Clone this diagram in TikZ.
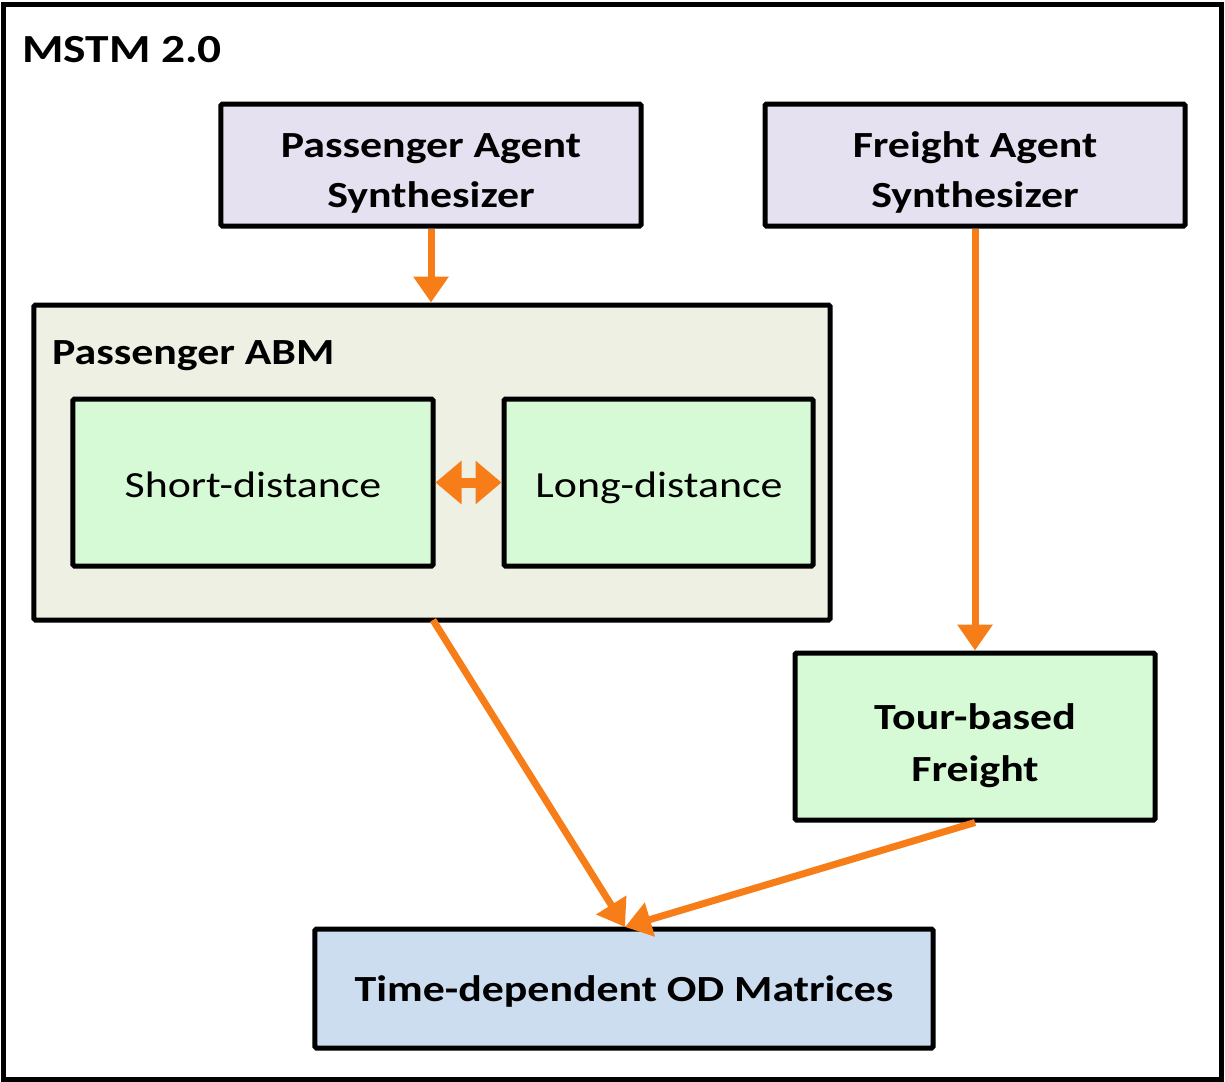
\documentclass[tikz,border=0pt]{standalone}
\usepackage{fontspec}
\setmainfont[FakeStretch=1.19]{Carlito}
\usetikzlibrary{arrows.meta,shadows}
\definecolor{lav}{RGB}{229,225,240}
\definecolor{abmfill}{RGB}{237,240,227}
\definecolor{grn}{RGB}{214,250,214}
\definecolor{blu}{RGB}{205,221,240}
\definecolor{org}{RGB}{247,125,25}
\tikzset{
  box/.style={draw=black, line width=5bp, rounded corners=1.5bp, inner sep=0pt,
    drop shadow={shadow xshift=2bp, shadow yshift=-2bp, opacity=0.25}},
  conn/.style={draw=org, line width=7bp, -{Triangle[width=34bp,length=26bp]}},
  dconn/.style={draw=org, line width=10bp, {Triangle[width=42bp,length=26bp]}-{Triangle[width=42bp,length=26bp]}},
  bigtxt/.style={font=\fontsize{37}{50}\selectfont\bfseries, anchor=base, inner sep=0pt},
  regtxt/.style={font=\fontsize{37}{50}\selectfont, anchor=base, inner sep=0pt},
}
\begin{document}
\begin{tikzpicture}[x=1bp,y=-1bp]
\useasboundingbox (0,0) rectangle (1225,1082);
\fill[white] (0,0) rectangle (1225,1082);
% outer frame
\node[draw=black, line width=5bp, minimum width=1218bp, minimum height=1074bp, inner sep=0pt] (frame) at (612.5,542) {};
\node[anchor=base west, font=\fontsize{40}{50}\selectfont\bfseries, inner sep=0pt] (title) at (22,62) {MSTM 2.0};
% boxes
\node[box, fill=lav, minimum width=420bp, minimum height=122bp] (pas) at (431,165) {};
\node[bigtxt] (pas1) at (431,157) {Passenger Agent};
\node[bigtxt] (pas2) at (431,207) {Synthesizer};
\node[box, fill=lav, minimum width=420bp, minimum height=122bp] (fas) at (975,165) {};
\node[bigtxt] (fas1) at (975,157) {Freight Agent};
\node[bigtxt] (fas2) at (975,207) {Synthesizer};
\node[box, fill=abmfill, minimum width=796bp, minimum height=315bp] (abm) at (432,462.5) {};
\node[anchor=base west, font=\fontsize{37}{44}\selectfont\bfseries, inner sep=0pt] (abmlbl) at (52,364) {Passenger ABM};
\node[box, fill=grn, minimum width=360bp, minimum height=167bp] (sd) at (253,482.5) {};
\node[regtxt] (sdt) at (253,497) {Short-distance};
\node[box, fill=grn, minimum width=309bp, minimum height=167bp] (ld) at (658.5,482.5) {};
\node[regtxt] (ldt) at (659,497) {Long-distance};
\node[box, fill=grn, minimum width=360bp, minimum height=167bp] (tour) at (975,736.5) {};
\node[bigtxt] (tour1) at (975,729) {Tour-based};
\node[bigtxt] (tour2) at (975,781) {Freight};
\node[box, fill=blu, minimum width=618bp, minimum height=119bp] (od) at (624,988.5) {};
\node[bigtxt] (odt) at (624,1001) {Time-dependent OD Matrices};
% connectors
\coordinate (odtop) at (625,927);
\draw[conn] (pas.south) -- (pas.south |- abm.north);
\draw[conn] (fas.south) -- (tour.north);
\draw[conn] (433,620) -- (odtop);
\draw[conn] (tour.south) -- (odtop);
\draw[dconn] (sd.east) -- (ld.west);
\end{tikzpicture}
\end{document}
